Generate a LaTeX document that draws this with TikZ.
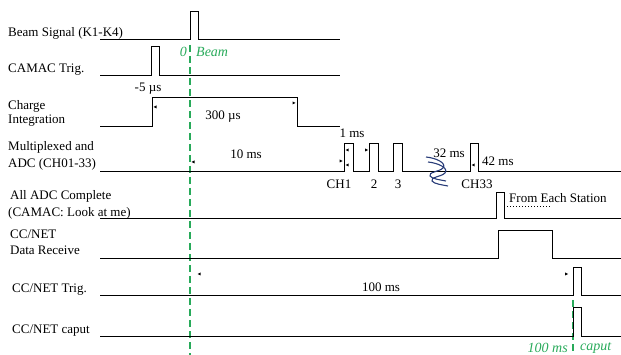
\documentclass[tikz,border=0pt]{standalone}
\usepackage{fontspec}
\setmainfont{Liberation Serif}
\definecolor{gr}{RGB}{40,170,90}
\definecolor{wv}{RGB}{40,60,120}
\begin{document}
\begin{tikzpicture}[x=1pt,y=-1pt,
  sig/.style={line width=1pt,line join=miter},
  lbl/.style={anchor=west,inner sep=0pt,font=\fontsize{13}{15}\selectfont},
  ann/.style={inner sep=0pt,font=\fontsize{13}{15}\selectfont},
  grn/.style={inner sep=0pt,font=\fontsize{14}{15}\selectfont\itshape,text=gr},
  gline/.style={draw=gr,line width=1.3pt,dash pattern=on 7pt off 4pt},
  wav/.style={draw=wv,line width=1.1pt}]
\useasboundingbox (0,0) rectangle (621,355);
% green dashed lines
\draw[gline] (190,45) -- (190,355);
\draw[gline] (573,300) -- (573,355);
% Beam signal
\draw[sig] (100,40) -- (190,40) -- (190,12) -- (198,12) -- (198,40) -- (340,40);
% CAMAC trig
\draw[sig] (100,76) -- (151,76) -- (151,47) -- (159,47) -- (159,76) -- (340,76);
% Charge integration
\draw[sig] (100,127) -- (152,127) -- (152,98) -- (297,98) -- (297,127) -- (340,127);
% Multiplexed
\draw[sig] (100,172) -- (344,172) -- (344,144) -- (353,144) -- (353,172)
  -- (369,172) -- (369,144) -- (378,144) -- (378,172)
  -- (393,172) -- (393,144) -- (402,144) -- (402,172)
  -- (470,172) -- (470,144) -- (478,144) -- (478,172) -- (621,172);
% All ADC complete
\draw[sig] (100,219) -- (496,219) -- (496,193) -- (504,193) -- (504,219) -- (621,219);
\draw[line width=1pt,dotted] (507,207) -- (552,207);
% Data receive
\draw[sig] (100,259) -- (498,259) -- (498,231) -- (552,231) -- (552,259) -- (621,259);
% CC/NET Trig
\draw[sig] (100,296) -- (573,296) -- (573,268) -- (581,268) -- (581,296) -- (621,296);
% CC/NET caput
\draw[sig] (100,336) -- (573,336) -- (573,308) -- (581,308) -- (581,336) -- (621,336);
% small dimension tips
\fill (153.5,107) -- (156.5,105.5) -- (156.5,108.5) -- cycle;
\fill (295.5,103) -- (292.5,101.5) -- (292.5,104.5) -- cycle;
\fill (191.5,162) -- (194.5,160.5) -- (194.5,163.5) -- cycle;
\fill (342.5,161) -- (339.5,159.5) -- (339.5,162.5) -- cycle;
\fill (345.5,150) -- (348.5,148.5) -- (348.5,151.5) -- cycle;
\fill (345.5,165) -- (348.5,163.5) -- (348.5,166.5) -- cycle;
\fill (368,150) -- (365,148.5) -- (365,151.5) -- cycle;
\fill (471.5,165) -- (474.5,163.5) -- (474.5,166.5) -- cycle;
\fill (197.5,274) -- (200.5,272.5) -- (200.5,275.5) -- cycle;
\fill (568,274) -- (565,272.5) -- (565,275.5) -- cycle;
% break symbol
\draw[wav] (426,157) .. controls (436,158) and (447,163) .. (443,168)
  .. controls (439,172) and (428,172) .. (430,176) .. controls (432,179) and (441,180) .. (446,181);
\draw[wav] (428,162) .. controls (438,163) and (449,168) .. (445,173)
  .. controls (441,177) and (430,177) .. (432,181) .. controls (434,184) and (443,185) .. (448,186);
% left labels
\node[lbl] (l1) at (8,33) {Beam Signal (K1-K4)};
\node[lbl] (l2) at (8,70) {CAMAC Trig.};
\node[lbl] (l3a) at (8,106) {Charge};
\node[lbl] (l3b) at (8,121) {Integration};
\node[lbl] (l4a) at (8,147) {Multiplexed and};
\node[lbl] (l4b) at (8,164) {ADC (CH01-33)};
\node[lbl] (l5a) at (10,196) {All ADC Complete};
\node[lbl] (l5b) at (8,213) {(CAMAC: Look at me)};
\node[lbl] (l6a) at (10,234) {CC/NET};
\node[lbl] (l6b) at (10,250) {Data Receive};
\node[lbl] (l7) at (12,290) {CC/NET Trig.};
\node[lbl] (l8) at (12,331) {CC/NET caput};
% annotations
\node[grn,anchor=east] (g0) at (187,52) {0};
\node[grn,anchor=west] (gb) at (196,52) {Beam};
\node[ann] (a5) at (148,89) {-5 \textmu s};
\node[ann] (a300) at (223,117) {300 \textmu s};
\node[ann] (a10) at (246,154) {10 ms};
\node[ann] (a1) at (352,133) {1 ms};
\node[ann] (ch1) at (339,184) {CH1};
\node[ann] (ch2) at (374,184) {2};
\node[ann] (ch3) at (398,184) {3};
\node[ann] (ch33) at (477,184) {CH33};
\node[ann] (a32) at (449,153) {32 ms};
\node[ann,anchor=west] (a42) at (482,161) {42 ms};
\node[ann,anchor=west] (fes) at (509,198) {From Each Station};
\node[ann] (a100) at (381,287) {100 ms};
\node[grn,anchor=east] (g100) at (568,348) {100 ms};
\node[grn,anchor=west] (gc) at (580,348) {caput};
\end{tikzpicture}
\end{document}
